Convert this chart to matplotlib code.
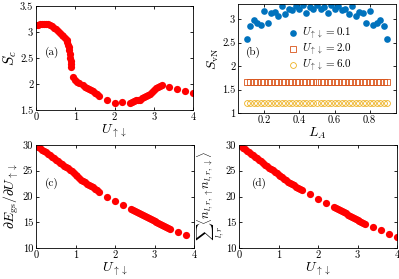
import numpy as np
import matplotlib
matplotlib.use("Agg")
import matplotlib.pyplot as plt
from matplotlib.ticker import FuncFormatter

plt.rcParams["font.family"] = "serif"
plt.rcParams["font.serif"] = ["cmr10", "DejaVu Serif"]
plt.rcParams["mathtext.fontset"] = "cm"
plt.rcParams["axes.formatter.use_mathtext"] = True
plt.rcParams["font.size"] = 7.5

RED = "#ff0000"
BLUE = "#0072bd"
ORANGE = "#d95319"
YELLOW = "#edb120"

# panel (a): S_c vs U
u_a = [0.0, 0.05, 0.1, 0.15, 0.2, 0.25, 0.3, 0.35, 0.4, 0.45, 0.5, 0.55, 0.6, 0.65,
       0.7, 0.75, 0.78, 0.8, 0.82, 0.84, 0.85, 0.86, 0.87, 0.88, 0.89, 0.9,
       0.95, 1.0, 1.05, 1.1, 1.2, 1.25, 1.3, 1.35, 1.4, 1.45, 1.5, 1.55, 1.6,
       1.8, 2.0, 2.2,
       2.4, 2.45, 2.5, 2.55, 2.6, 2.65, 2.7, 2.75, 2.8, 2.85, 2.9, 2.95, 3.0,
       3.05, 3.1, 3.15, 3.2,
       3.4, 3.6, 3.8, 4.0]
s_c = [3.13, 3.14, 3.15, 3.16, 3.16, 3.16, 3.15, 3.13, 3.11, 3.08, 3.05, 3.02, 2.99, 2.95,
       2.92, 2.89, 2.85, 2.81, 2.75, 2.71, 2.65, 2.58, 2.50, 2.44, 2.38, 2.33,
       2.14, 2.08, 2.04, 2.01, 1.98, 1.95, 1.93, 1.91, 1.88, 1.86, 1.83, 1.80, 1.77,
       1.69, 1.64, 1.66,
       1.64, 1.66, 1.68, 1.69, 1.69, 1.70, 1.73, 1.75, 1.77, 1.79, 1.81, 1.85, 1.88,
       1.92, 1.94, 1.96, 1.98,
       1.94, 1.90, 1.87, 1.83]

# panel (b): S_vN vs L_A
l_a = [0.10, 0.12, 0.14, 0.16, 0.18, 0.20, 0.22, 0.24, 0.26, 0.28, 0.30, 0.32, 0.34,
       0.36, 0.38, 0.40, 0.42, 0.44, 0.46, 0.48, 0.50, 0.52, 0.54, 0.56, 0.58, 0.60,
       0.62, 0.64, 0.66, 0.68, 0.70, 0.72, 0.74, 0.76, 0.78, 0.80, 0.82, 0.84, 0.86,
       0.88, 0.90]
s_u01 = [2.58, 2.85, 2.99, 2.91, 2.88, 3.18, 2.92, 3.12, 3.15, 3.07, 3.27, 3.10, 3.22,
         3.19, 3.27, 3.21, 3.29, 3.13, 3.25, 3.21, 3.30, 3.21, 3.25, 3.13, 3.29, 3.21,
         3.27, 3.19, 3.22, 3.10, 3.27, 3.07, 3.15, 3.12, 2.92, 3.18, 2.88, 2.91, 2.99,
         2.85, 2.58]
s_u20 = [1.67, 1.67, 1.66, 1.65, 1.65, 1.65, 1.65, 1.65, 1.65, 1.65, 1.65, 1.65, 1.65,
         1.65, 1.65, 1.65, 1.65, 1.65, 1.65, 1.65, 1.65, 1.65, 1.65, 1.65, 1.65, 1.65,
         1.65, 1.65, 1.65, 1.65, 1.65, 1.65, 1.65, 1.65, 1.65, 1.65, 1.65, 1.65, 1.66,
         1.67, 1.67]
s_u60 = [1.22, 1.22, 1.22, 1.22, 1.22, 1.22, 1.22, 1.22, 1.22, 1.22, 1.22, 1.22, 1.22,
         1.22, 1.22, 1.22, 1.22, 1.22, 1.22, 1.22, 1.22, 1.22, 1.22, 1.22, 1.22, 1.22,
         1.22, 1.22, 1.22, 1.22, 1.22, 1.22, 1.22, 1.22, 1.22, 1.22, 1.22, 1.22, 1.22,
         1.22, 1.22]

# panel (c): dE/dU
u_c = [0.0, 0.05, 0.1, 0.15, 0.2, 0.25, 0.3, 0.35, 0.4, 0.45, 0.5, 0.55, 0.6, 0.65,
       0.7, 0.75, 0.8, 0.85, 0.9, 0.95, 1.0, 1.05, 1.1, 1.15, 1.2, 1.25, 1.3, 1.35,
       1.4, 1.45, 1.5, 1.55, 1.6,
       1.8, 2.0, 2.2,
       2.4, 2.45, 2.5, 2.55, 2.6, 2.65, 2.7, 2.75, 2.8, 2.85, 2.9, 2.95, 3.0, 3.05,
       3.1, 3.15, 3.2, 3.25, 3.3, 3.35, 3.4,
       3.6, 3.8]
de_du = [30.0, 29.7, 29.4, 29.1, 28.9, 28.6, 28.3, 28.0, 27.7, 27.4, 27.1, 26.8, 26.6, 26.3,
         26.0, 25.8, 25.5, 25.2, 24.9, 24.6, 24.2, 23.9, 23.6, 23.3, 23.1, 22.8, 22.5, 22.3,
         22.0, 21.8, 21.5, 21.2, 20.9,
         20.0, 19.1, 18.3,
         17.6, 17.4, 17.2, 17.0, 16.8, 16.6, 16.4, 16.2, 16.0, 15.9, 15.7, 15.5, 15.3, 15.1,
         14.9, 14.7, 14.5, 14.3, 14.1, 13.9, 13.7,
         13.1, 12.5]

# panel (d): double occupancy sum
u_d = [0.0, 0.05, 0.1, 0.15, 0.2, 0.25, 0.3, 0.35, 0.4, 0.45, 0.5, 0.55, 0.6, 0.65,
       0.7, 0.75, 0.8, 0.85, 0.9, 0.95, 1.0, 1.05, 1.1, 1.15, 1.2, 1.25, 1.3, 1.35,
       1.4, 1.45, 1.5, 1.55, 1.6,
       1.8, 2.0, 2.2,
       2.4, 2.45, 2.5, 2.55, 2.6, 2.65, 2.7, 2.75, 2.8, 2.85, 2.9, 2.95, 3.0, 3.05,
       3.1, 3.15, 3.2,
       3.4, 3.6, 3.8, 4.0]
n_dbl = [30.1, 29.8, 29.5, 29.2, 28.9, 28.6, 28.3, 28.0, 27.7, 27.4, 27.1, 26.8, 26.5, 26.2,
         25.9, 25.6, 25.3, 25.1, 24.8, 24.5, 24.2, 24.0, 23.7, 23.4, 23.2, 22.9, 22.7, 22.4,
         22.2, 21.9, 21.7, 21.5, 21.3,
         20.4, 19.6, 18.7,
         17.9, 17.7, 17.5, 17.3, 17.1, 16.9, 16.7, 16.5, 16.3, 16.1, 15.9, 15.7, 15.5, 15.3,
         15.1, 14.9, 14.7,
         14.0, 13.4, 12.8, 12.1]

W, H = 399, 279
fig = plt.figure(figsize=(W / 100, H / 100), dpi=100)


def add_ax(l, r, t, b):
    return fig.add_axes([l / W, 1 - b / H, (r - l) / W, (b - t) / H])


def style(ax):
    ax.tick_params(direction="in", top=True, right=True, length=2.5, width=0.6,
                   labelsize=7.5, pad=2)
    for s in ax.spines.values():
        s.set_linewidth(0.6)
    fmt = FuncFormatter(lambda v, p: "%g" % v)
    ax.xaxis.set_major_formatter(fmt)
    ax.yaxis.set_major_formatter(fmt)


xlab = r"$U_{\uparrow\downarrow}$"

ax_a = add_ax(36, 193, 6, 110)
ax_a.plot(u_a, s_c, "o", color=RED, ms=5.2, mec="none")
ax_a.set_xlim(0, 4)
ax_a.set_ylim(1.5, 3.5)
ax_a.set_xticks([0, 1, 2, 3, 4])
ax_a.set_yticks([1.5, 2, 2.5, 3, 3.5])
ax_a.set_xlabel(xlab, fontsize=10, labelpad=0)
ax_a.set_ylabel(r"$S_c$", fontsize=11, labelpad=1)
ax_a.text(0.1, 0.55, "(a)", transform=ax_a.transAxes, fontsize=8, ha="center", va="center")
style(ax_a)

ax_b = add_ax(238, 396, 4, 113)
ax_b.plot(l_a, s_u01, "o", color=BLUE, ms=4.8, mec="none",
          label=r"$U_{\uparrow\downarrow}=0.1$")
ax_b.plot(l_a, s_u20, "s", color=ORANGE, ms=4.2, mfc="none", mew=0.6,
          label=r"$U_{\uparrow\downarrow}=2.0$")
ax_b.plot(l_a, s_u60, "o", color=YELLOW, ms=4.2, mfc="none", mew=0.6,
          label=r"$U_{\uparrow\downarrow}=6.0$")
ax_b.set_xlim(0.05, 0.95)
ax_b.set_ylim(1, 3.32)
ax_b.set_xticks([0.2, 0.4, 0.6, 0.8])
ax_b.set_yticks([1, 1.5, 2, 2.5, 3])
ax_b.set_xlabel(r"$L_A$", fontsize=10, labelpad=0)
ax_b.set_ylabel(r"$S_{\rm vN}$", fontsize=10, labelpad=1)
ax_b.text(0.1, 0.56, "(b)", transform=ax_b.transAxes, fontsize=8, ha="center", va="center")
ax_b.legend(loc="upper left", bbox_to_anchor=(0.28, 0.86), frameon=False, fontsize=8,
            handlelength=0.8, handletextpad=0.4, labelspacing=-0.05, borderpad=0.1)
style(ax_b)

ax_c = add_ax(36, 194, 145, 248)
ax_c.plot(u_c, de_du, "o", color=RED, ms=5.2, mec="none")
ax_c.set_xlim(0, 4)
ax_c.set_ylim(10, 30)
ax_c.set_xticks([0, 1, 2, 3, 4])
ax_c.set_yticks([10, 15, 20, 25, 30])
ax_c.set_xlabel(xlab, fontsize=10, labelpad=0)
ax_c.set_ylabel(r"$\partial E_{\rm gs}/\partial U_{\uparrow\downarrow}$", fontsize=10, labelpad=1)
ax_c.text(0.1, 0.63, "(c)", transform=ax_c.transAxes, fontsize=8, ha="center", va="center")
style(ax_c)

ax_d = add_ax(239, 397, 145, 248)
ax_d.plot(u_d, n_dbl, "o", color=RED, ms=5.2, mec="none")
ax_d.set_xlim(0, 4)
ax_d.set_ylim(10, 30)
ax_d.set_xticks([0, 1, 2, 3, 4])
ax_d.set_yticks([10, 15, 20, 25, 30])
ax_d.set_xlabel(xlab, fontsize=10, labelpad=0)
ax_d.set_ylabel(r"$\sum_{l,r}\langle n_{l,r,\uparrow}n_{l,r,\downarrow}\rangle$",
                fontsize=9, labelpad=-1)
ax_d.text(0.13, 0.63, "(d)", transform=ax_d.transAxes, fontsize=8, ha="center", va="center")
style(ax_d)

fig.savefig("out.png", dpi=100)
